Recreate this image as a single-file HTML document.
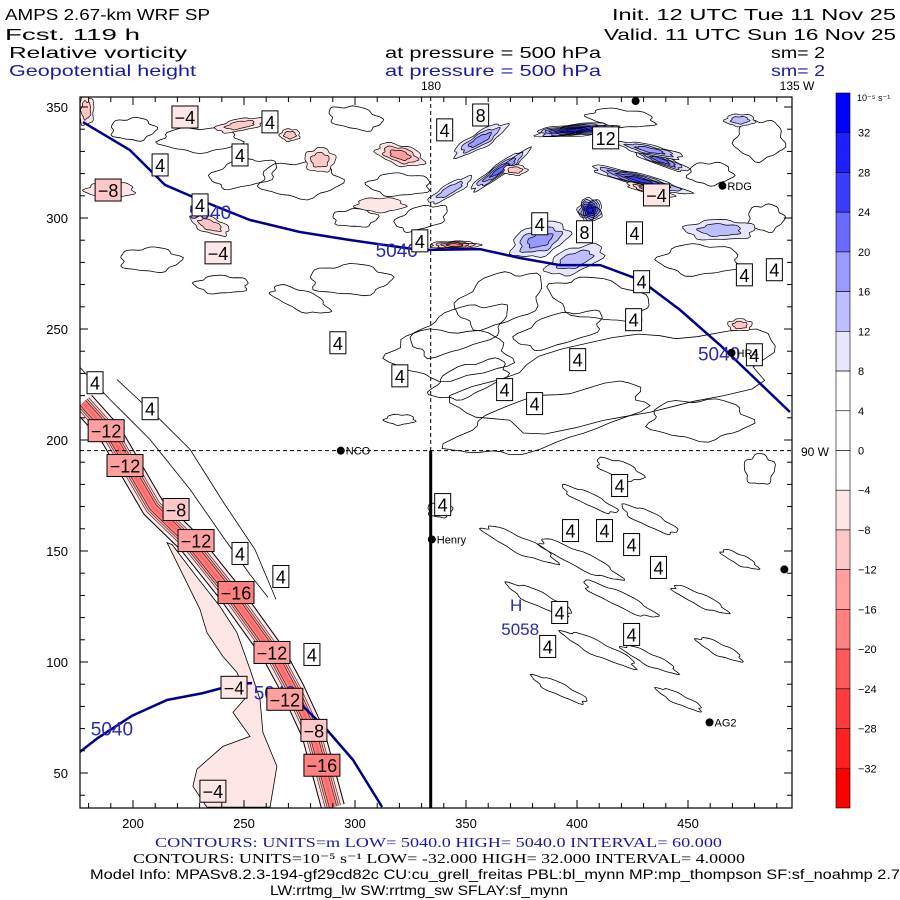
<!DOCTYPE html>
<html><head><meta charset="utf-8"><style>
html,body{margin:0;padding:0;background:#fff;}
svg{display:block;font-family:"Liberation Sans",sans-serif;}
</style></head><body>
<svg id="chart" width="900" height="900" viewBox="0 0 900 900">
<g font-size="16">
<text x="5" y="20" textLength="205" lengthAdjust="spacingAndGlyphs">AMPS 2.67-km WRF SP</text>
<text x="612" y="20" textLength="284" lengthAdjust="spacingAndGlyphs">Init. 12 UTC Tue 11 Nov 25</text>
<text x="5" y="40" textLength="135" lengthAdjust="spacingAndGlyphs">Fcst.  119 h</text>
<text x="604" y="40" textLength="292" lengthAdjust="spacingAndGlyphs">Valid. 11 UTC Sun 16 Nov 25</text>
<text x="9" y="58" textLength="178" lengthAdjust="spacingAndGlyphs">Relative vorticity</text>
<text x="385" y="58" textLength="216" lengthAdjust="spacingAndGlyphs">at pressure =  500 hPa</text>
<text x="771" y="58" textLength="54" lengthAdjust="spacingAndGlyphs">sm= 2</text>
<g fill="#1a1aa0">
<text x="9" y="76" textLength="187" lengthAdjust="spacingAndGlyphs">Geopotential height</text>
<text x="385" y="76" textLength="216" lengthAdjust="spacingAndGlyphs">at pressure =  500 hPa</text>
<text x="771" y="76" textLength="54" lengthAdjust="spacingAndGlyphs">sm= 2</text>
</g>
<text x="431" y="90" font-size="12" text-anchor="middle">180</text>
<text x="797" y="90" font-size="12" text-anchor="middle">135 W</text>
<text x="815" y="456" font-size="12" text-anchor="middle">90 W</text>
</g>
<defs><clipPath id="clip"><rect x="80" y="97" width="712" height="711"/></clipPath></defs>
<g id="plot" clip-path="url(#clip)"></g>
<g id="over"></g>
<g id="axes"></g>
<g id="cbar"></g>
<g>
<text x="155" y="847" font-size="14" fill="#1a1aa0" font-family="Liberation Serif, serif" textLength="567" lengthAdjust="spacingAndGlyphs">CONTOURS:  UNITS=m  LOW=  5040.0      HIGH=  5040.0      INTERVAL=   60.000</text>
<text x="133" y="863" font-size="14" font-family="Liberation Serif, serif" textLength="612" lengthAdjust="spacingAndGlyphs">CONTOURS:  UNITS=10⁻⁵ s⁻¹  LOW= -32.000       HIGH=  32.000       INTERVAL=   4.0000</text>
<text x="90" y="879" font-size="14" textLength="810" lengthAdjust="spacingAndGlyphs">Model Info: MPASv8.2.3-194-gf29cd82c CU:cu_grell_freitas PBL:bl_mynn MP:mp_thompson SF:sf_noahmp 2.7</text>
<text x="270" y="895" font-size="14" textLength="298" lengthAdjust="spacingAndGlyphs">LW:rrtmg_lw SW:rrtmg_sw SFLAY:sf_mynn</text>
</g>
</svg>
<script>
// ---- data ----
const hgtNorth=[[177.5,343.2],[198.6,330.6],[214.4,314.9],[230.2,308.1],[252.7,299.1],[275.2,293.7],[297.7,290.1],[329.3,285.6],[356.3,286.0],[374.3,282.0],[392.3,278.8],[410.4,278.8],[428.4,272.1],[446.4,258.6],[464.4,242.8],[495.9,212.6]];
const hgtSouthA=[[176.1,59.5],[184.2,65.8],[199.5,75.7],[215.3,82.9],[231.5,86.0],[246.8,90.1],[253.6,90.5]];
const hgtSouthB=[[276.1,80.6],[287.4,69.4],[299.1,55.9],[312.2,34.7]];
const hgtLabels=[[234.7,302.7,'5040'],[318.8,285.6,'5040'],[464,239,'5040'],[190.5,70,'5040'],[263.9,86.3,'5040']];
const highMark=[369,123,'H','5058'];
const bandLine=[[177.5,216.7],[189.6,203.2],[209.0,169.8],[225.7,153.6],[243.7,131.1],[263.1,104.1],[272.1,87.4],[281.1,68.0],[290.1,34.7]];
const pinkArea=[[215.3,153.8],[230.2,123.7],[233.3,113.3],[240.5,102.5],[246.8,95.3],[251.3,84.5],[245,77.3],[252.7,66.5],[240.5,62],[228.8,51.7],[227,44],[233.3,34.6],[261.7,34.6],[264.8,53],[258.5,68.3],[257.2,83.2],[252.7,96.7],[246.8,113.3],[239.2,125],[227.9,139.4],[217.6,152.9]];
const contourA=[[176.2,232.6],[189.7,218.2],[207.7,200.2],[225.7,177.7],[241.4,155.2],[252.7,139.4],[260.8,129.1]];
const contourB=[[192.8,227.2],[212.2,209.2],[225.7,195.7],[241.4,170.9],[254.9,150.7],[264.4,128.2]];
// blobs: x, y, rx, ry, rotation, level
const blobs=[[399.1,339.6,18,2.7,-5,28],[428.4,317.1,22.5,2.7,15,20],[437.4,326.1,13.5,2.3,20,16],[432.9,330.6,15,2.3,12,12],[405.9,303.6,5.4,5.4,0,28],[383.3,290.1,13.5,6.8,-20,12],[356.3,335.1,13.5,3.6,-30,12],[365.3,321.6,15.8,2.7,-35,16],[342.8,312.6,11,2.7,-30,8],[464.4,294.6,15.8,4.5,0,8],[399.1,281.1,13.5,5.4,-20,8],[473.4,344.1,6.8,2.7,0,8],
[320.3,328.4,11,4.5,15,-12],[345.0,287.8,11,1.8,0,-16],[284.2,326.1,6.8,5.4,0,-8],[248.2,341.9,11,2.7,-10,-8],[234.7,296.8,9,3.6,20,-8],[189.6,312.6,11,3.6,0,-4],[311.3,305.9,11,3.2,0,-4],[372.1,321.6,5.4,2.3,0,-8],[432.9,312.6,11,1.8,15,-12],[473.4,251.8,5.4,2.7,0,-8],[178.8,348.6,3.6,6.8,0,-8],[270.7,337.4,4.5,2.7,0,-8]];
const outlines=[[230.2,335.2,18,5.4,0],[275.2,263.2,13.5,4.5,20],[297.7,272.2,18,6.8,0],[365.2,263.2,20,11,-20],[410.2,263.2,22.5,9,10],[455.2,281.2,18,6.8,0],[482.2,335.2,11,9,0],[275.2,317.2,18,8,0],[207.7,281.2,13.5,5.4,0],[347.2,249.7,22.5,9,-20],[392.2,249.7,20,6.8,-15],[351.7,227.2,18,6.8,-20],[320.2,209.2,6.8,2.3,0],
[374.2,152.9,18,3.6,25],[401.2,146.2,20,3.6,25],[419.2,128.2,18,3.2,25],[432.7,164.2,13.5,3.2,25],[383.2,128.2,15.8,3.2,25],[410.2,105.7,18,3.2,25],[432.7,101.2,13.5,2.7,25],[455.2,128.2,13.5,2.7,25],[419.2,186.7,11,3.6,20],[405.7,173.2,13.5,2.7,25],[392.2,87.7,13.5,2.7,25],[446.2,83.2,11,2.3,25],[464.2,105.7,11,2.7,25],[473.2,146.2,9,2.3,25],[338.2,168.7,5.4,3.6,0],[482.2,186.7,6.8,6.8,0],
[419.2,227.2,72,18,-10],[387.7,209.2,45,11,-15],[342.7,238.7,27,11,0],[455.2,209.2,22.5,9,0],
[200,340,10,5,0],[300,345,12,5,10],[250,320,15,6,-10],[320,315,14,5,0],[420,345,15,4,5],[460,320,10,5,0],[485,300,8,6,0],[300,300,10,4,0],[330,300,12,5,-15],[240,270,12,4,0]];
const labelPos=[[223.4,345.5],[261.7,343.3],[340.4,339.7],[356.6,346.4],[412.9,336.1],[212.2,323.9],[248.2,328.4],[188.8,312.6],[230.2,305.9],[435.8,310.4],[383.2,297.4],[403.4,293.8],[425.9,293.3],[329.2,289.7],[238.3,284.3],[475.4,274.4],[488.9,276.7],[429.1,271.3],[425.5,254.2],[292.3,243.8],[400.3,236.2],[479.9,238.4],[320.2,228.9],[182.9,225.8],[367.4,222.7],[207.7,214.1],[380.9,216.4],[187.9,204.2],[196.4,188.5],[419.2,179.5],[339.5,170.9],[219.4,168.7],[397.1,159.2],[412.4,159.2],[228.4,154.7],[248.2,148.9],[424.6,152.9],[266.6,138.5],[436.7,142.6],[246.4,131.3],[392.2,122.3],[424.6,112.4],[280.6,103.4],[262.6,104.3],[386.8,107],[245.5,88.6],[268.4,83.2],[281.5,69.2],[285.1,53.5],[236,41.8]];
const labelText=['-4','4','4','8','12','4','4','-8','4','-4','4','8','4','4','-4','4','4','4','4','4','4','4','4','4','4','4','4','-12','-12','4','4','-8','4','4','-12','4','4','4','4','-16','4','4','4','-12','4','-4','-12','-8','-16','-4'];
const stations=[[293.6,195.2,'NCO'],[334.6,155.2,'Henry'],[465.5,314.5,'RDG'],[469.6,239.3,'HR4'],[459.7,72.8,'AG2'],[493.4,141.7,''],[426.4,352.7,'']];
const xTicks=[200,250,300,350,400,450];
const yTicks=[50,100,150,200,250,300,350];
const refLon=334.1, refLat=195.2;
const cbLevels=['32','28','24','20','16','12','8','4','0','-4','-8','-12','-16','-20','-24','-28','-32'];
const cbColors=['#0000ff','#1e1eff','#3c3cff','#6a6aff','#9999ff','#bdbdff','#e6e6ff','#ffffff','#ffffff','#ffffff','#ffe6e6','#ffc8c8','#ffa0a0','#ff8080','#ff5a5a','#ff3c3c','#ff2020','#ff0000'];
// ---- scales ----
const X0=80,X1=792,Y0=97,Y1=808;
const sx=v=>133+(v-200)*2.22, sy=v=>107+(350-v)*2.22, sl=v=>v*2.22;
const NS='http://www.w3.org/2000/svg';
function mk(p,tag,a){const e=document.createElementNS(NS,tag);for(const k in a)e.setAttribute(k,a[k]);p.appendChild(e);return e;}
const plot=document.getElementById('plot'),over=document.getElementById('over'),axes=document.getElementById('axes'),cbar=document.getElementById('cbar');
const pts=a=>a.map(p=>sx(p[0]).toFixed(1)+','+sy(p[1]).toFixed(1)).join(' ');
mk(plot,'rect',{x:X0,y:Y0,width:X1-X0,height:Y1-Y0,fill:'#fff'});
function lvlColor(l){const m={4:'#ffffff',8:'#e6e6ff',12:'#bdbdff',16:'#9999ff',20:'#6a6aff',24:'#3c3cff',28:'#1e1eff','-4':'#ffe6e6','-8':'#ffc8c8','-12':'#ffa0a0','-16':'#ff8080'};return m[l]||'#fff';}
function blobPath(cx,cy,rx,ry,rot,seed){let d='';const n=40;for(let i=0;i<=n;i++){const t=i/n*2*Math.PI;const f=1+0.1*Math.sin(5*t+seed)+0.05*Math.sin(9*t+2*seed);const x=rx*f*Math.cos(t),y=ry*f*Math.sin(t);const r=rot*Math.PI/180;const X=cx+x*Math.cos(r)-y*Math.sin(r),Y=cy+x*Math.sin(r)+y*Math.cos(r);d+=(i?'L':'M')+X.toFixed(1)+','+Y.toFixed(1);}return d+'Z';}
// outlines
outlines.forEach((o,i)=>{const p=mk(plot,'path',{d:blobPath(sx(o[0]),sy(o[1]),sl(o[2]),sl(o[3]),o[4],i),fill:'none',stroke:'#000','stroke-width':0.8});

});
// pink area
const pa=mk(plot,'polygon',{points:pts(pinkArea),fill:'#ffe6e6',stroke:'#000','stroke-width':0.8});


[contourA,contourB].forEach((c,i)=>{const l=mk(plot,'polyline',{points:pts(c),fill:'none',stroke:'#000','stroke-width':0.8});

});
// blobs nested
blobs.forEach((b,i)=>{const L=b[5],s=Math.sign(L),n=Math.abs(L)/4;for(let k=1;k<=n;k++){const f=1-(k-1)/(n+0.5);const lv=s*4*k;const fill=s>0?lvlColor(Math.min(lv+4,28)):lvlColor(lv);const p=mk(plot,'path',{d:blobPath(sx(b[0]),sy(b[1]),sl(b[2])*f,sl(b[3])*f,b[4],i+k),fill:fill,stroke:'#000','stroke-width':0.7});

}});
// red band
[[24,'#000'],[22,'#ffe6e6'],[16,'#000'],[15,'#ffc8c8'],[12,'#000'],[11,'#ffa0a0'],[8,'#000'],[7,'#ff8080'],[3,'#ff6a6a']].forEach((w,i)=>{const l=mk(plot,'polyline',{points:pts(bandLine),fill:'none',stroke:w[1],'stroke-width':w[0],'stroke-linejoin':'round'});

});
// reference lines
mk(plot,'line',{x1:sx(refLon),y1:Y0,x2:sx(refLon),y2:sy(refLat),stroke:'#000','stroke-width':1,'stroke-dasharray':'4,3'});
mk(plot,'line',{x1:X0,y1:sy(refLat),x2:X1,y2:sy(refLat),stroke:'#000','stroke-width':1,'stroke-dasharray':'4,3'});
mk(plot,'line',{x1:sx(refLon),y1:sy(refLat),x2:sx(refLon),y2:Y1,stroke:'#000','stroke-width':3});
// height contours
[hgtNorth,hgtSouthA,hgtSouthB].forEach((h,i)=>{const l=mk(plot,'polyline',{points:pts(h),fill:'none',stroke:'#00008b','stroke-width':2.5});

});
hgtLabels.forEach(h=>{const t=mk(plot,'text',{x:sx(h[0]),y:sy(h[1])+7,'font-size':19,fill:'#2a2ab0','text-anchor':'middle'});t.textContent=h[2];

});
{const t=mk(plot,'text',{x:sx(highMark[0])+8,y:sy(highMark[1]),'font-size':17,fill:'#2a2ab0','text-anchor':'middle'});t.textContent=highMark[2];


const t2=mk(plot,'text',{x:sx(highMark[0])+12,y:sy(highMark[1])+24,'font-size':17,fill:'#2a2ab0','text-anchor':'middle'});t2.textContent=highMark[3];

}
// contour labels
labelPos.forEach((p,i)=>{const s=labelText[i];const w=s.length*10+6;const g=mk(plot,'g',{});


const neg=s[0]=='-';const v=parseInt(s);const bg=neg?lvlColor(Math.max(v,-16)):'#fff';
mk(g,'rect',{x:sx(p[0])-w/2,y:sy(p[1])-11,width:w,height:22,fill:bg,stroke:'#000','stroke-width':1});
const t=mk(g,'text',{x:sx(p[0]),y:sy(p[1])+7,'font-size':18,'text-anchor':'middle'});t.textContent=s.replace('-','−');});
// stations
stations.forEach(s=>{const g=mk(over,'g',{});


mk(g,'circle',{cx:sx(s[0]),cy:sy(s[1]),r:4,fill:'#000'});if(s[2]){const t=mk(g,'text',{x:sx(s[0])+5,y:sy(s[1])+4,'font-size':11});t.textContent=s[2];}});
// axes
mk(axes,'rect',{x:X0,y:Y0,width:X1-X0,height:Y1-Y0,fill:'none',stroke:'#000','stroke-width':1.2});
for(let v=180;v<=490;v+=10){const x=sx(v);if(x<X0||x>X1)continue;const big=v%50==0;mk(axes,'line',{x1:x,y1:Y1,x2:x,y2:Y1-(big?8:5),stroke:'#000'});mk(axes,'line',{x1:x,y1:Y0,x2:x,y2:Y0+(big?8:5),stroke:'#000'});}
for(let v=40;v<=350;v+=10){const y=sy(v);if(y<Y0||y>Y1)continue;const big=v%50==0;mk(axes,'line',{x1:X0,y1:y,x2:X0+(big?8:5),y2:y,stroke:'#000'});mk(axes,'line',{x1:X1,y1:y,x2:X1-(big?8:5),y2:y,stroke:'#000'});}
xTicks.forEach(v=>{const t=mk(axes,'text',{x:sx(v),y:828,'font-size':13,'text-anchor':'middle'});t.textContent=v;

});
yTicks.forEach(v=>{const t=mk(axes,'text',{x:68,y:sy(v)+5,'font-size':13,'text-anchor':'end'});t.textContent=v;

});
// colorbar
const cbT=93,cbB=808,bh=(cbB-cbT)/cbColors.length;
cbColors.forEach((c,i)=>{const r=mk(cbar,'rect',{x:836,y:cbT+i*bh,width:14,height:bh,fill:c,stroke:'#000','stroke-width':0.6});

});
cbLevels.forEach((l,i)=>{const t=mk(cbar,'text',{x:858,y:cbT+(i+1)*bh+4,'font-size':11});t.textContent=l.replace('-','−');

});
{const t=mk(cbar,'text',{x:857,y:101,'font-size':9});t.textContent='10⁻⁵ s⁻¹';

}
</script>
</body></html>
